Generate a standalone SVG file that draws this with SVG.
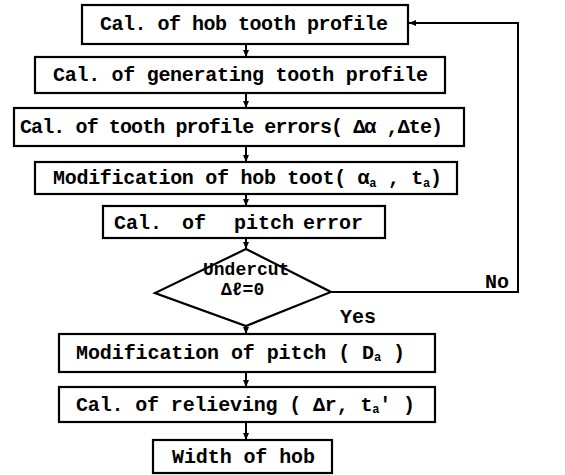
<svg xmlns="http://www.w3.org/2000/svg" width="565" height="475" viewBox="0 0 565 475">
<defs>
<marker id="ah" markerWidth="8" markerHeight="8" refX="7" refY="4" orient="auto" markerUnits="userSpaceOnUse">
<path d="M0,1 L7,4 L0,7 Z" fill="#000"/>
</marker>
<style>
.box{fill:#fff;stroke:#000;stroke-width:2.2}
.t{font-family:"Liberation Mono",monospace;font-weight:bold;font-size:20px;fill:#000}
.d{font-size:18px}
.s{font-size:12px}
.c{fill:none;stroke:#000;stroke-width:2}
</style>
</defs>
<rect width="565" height="475" fill="#fff"/>
<g id="connectors">
<line class="c" x1="246" y1="44" x2="246" y2="57" marker-end="url(#ah)"/>
<line class="c" x1="246" y1="93" x2="246" y2="108" marker-end="url(#ah)"/>
<line class="c" x1="246" y1="146" x2="246" y2="162" marker-end="url(#ah)"/>
<line class="c" x1="246" y1="194" x2="246" y2="206" marker-end="url(#ah)"/>
<line class="c" x1="246" y1="238" x2="246" y2="249" marker-end="url(#ah)"/>
<line class="c" x1="246" y1="326" x2="246" y2="334" marker-end="url(#ah)"/>
<line class="c" x1="246" y1="372" x2="246" y2="387" marker-end="url(#ah)"/>
<line class="c" x1="246" y1="422" x2="246" y2="440" marker-end="url(#ah)"/>
<polyline class="c" points="331,292 518,292 518,23 409,23" marker-end="url(#ah)"/>
</g>
<g id="n1"><rect class="box" x="82" y="5" width="326" height="39"/><text class="t" x="100" y="30" textLength="288">Cal. of hob tooth profile</text></g>
<g id="n2"><rect class="box" x="35" y="57" width="410" height="36"/><text class="t" x="53" y="81" textLength="375">Cal. of generating tooth profile</text></g>
<g id="n3"><rect class="box" x="14" y="108" width="450" height="38"/><text class="t" x="20" y="133" textLength="423">Cal. of tooth profile errors( Δα ,Δte)</text></g>
<g id="n4"><rect class="box" x="35" y="162" width="422" height="32"/><text class="t" x="53" y="184" textLength="389">Modification of hob toot( α<tspan class="s" dy="3">a</tspan><tspan dy="-3"> , t</tspan><tspan class="s" dy="3">a</tspan><tspan dy="-3">)</tspan></text></g>
<g id="n5"><rect class="box" x="103" y="206" width="282" height="32"/><text class="t" y="229"><tspan x="114">Cal.</tspan><tspan x="182">of</tspan><tspan x="234">pitch</tspan><tspan x="303">error</tspan></text></g>
<g id="n6"><polygon class="box" points="246,249 331,292 246,326 155,293"/><text class="t d" x="203" y="275">Undercut</text><text class="t d" x="221" y="295">Δℓ=0</text></g>
<text class="t" x="485" y="288">No</text>
<text class="t" x="340" y="323">Yes</text>
<g id="n7"><rect class="box" x="59" y="334" width="376" height="38"/><text class="t" x="76" y="359" textLength="329">Modification of pitch ( D<tspan class="s" dy="2">a</tspan><tspan dy="-2"> )</tspan></text></g>
<g id="n8"><rect class="box" x="59" y="387" width="376" height="35"/><text class="t" x="76" y="411" textLength="339">Cal. of relieving ( Δr, t<tspan class="s" dy="2">a</tspan><tspan dy="-2">' )</tspan></text></g>
<g id="n9"><rect class="box" x="153" y="440" width="179" height="33"/><text class="t" x="172" y="463" textLength="143">Width of hob</text></g>
</svg>
